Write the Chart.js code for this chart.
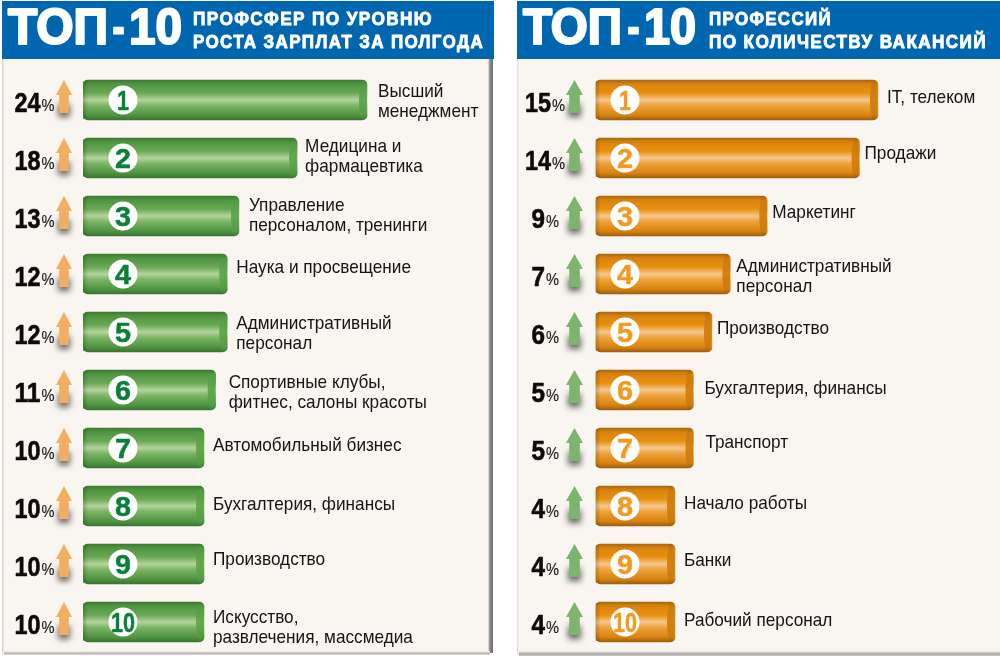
<!DOCTYPE html>
<html><head><meta charset="utf-8">
<script src="https://cdn.jsdelivr.net/npm/chart.js@4"></script>
<style>
html,body{margin:0;padding:0;background:#fff;width:1000px;height:656px;overflow:hidden}
canvas{position:absolute;top:0}
</style></head><body>
<canvas id="left" width="500" height="656" style="left:0"></canvas>
<canvas id="right" width="500" height="656" style="left:500px"></canvas>
<script>
const headlineParts = ['ТОП', '-', '10'];
const leftTitle = ['ПРОФСФЕР ПО УРОВНЮ', 'РОСТА ЗАРПЛАТ ЗА ПОЛГОДА'];
const rightTitle = ['ПРОФЕССИЙ', 'ПО КОЛИЧЕСТВУ ВАКАНСИЙ'];
const leftCategories = [['Высший','менеджмент'],['Медицина и','фармацевтика'],['Управление','персоналом, тренинги'],['Наука и просвещение'],['Административный','персонал'],['Спортивные клубы,','фитнес, салоны красоты'],['Автомобильный бизнес'],['Бухгалтерия, финансы'],['Производство'],['Искусство,','развлечения, массмедиа']];
const leftValues = [24,18,13,12,12,11,10,10,10,10];
const rightCategories = [['IT, телеком'],['Продажи'],['Маркетинг'],['Административный','персонал'],['Производство'],['Бухгалтерия, финансы'],['Транспорт'],['Начало работы'],['Банки'],['Рабочий персонал']];
const rightValues = [15,14,9,7,6,5,5,4,4,4];

const FONT = '"Liberation Sans", Arial, sans-serif';
function stops(g, list){ list.forEach(s => g.addColorStop(s[0], s[1])); return g; }

function makeChart(id, cfg){
  const panelPlugin = {
    id: 'panel',
    beforeDraw(chart){
      const c = chart.ctx, p = cfg.panel;
      c.save();
      c.fillStyle = '#f9f5f0';
      c.fillRect(p.x, 59, p.w, 596);
      if (cfg.shadowRight){
        const g = stops(c.createLinearGradient(p.x+p.w-4,0,p.x+p.w+1,0),[[0,'#f9f5f0'],[0.35,'#8a8a8a'],[1,'#6f6f6f']]);
        c.fillStyle = g; c.fillRect(p.x+p.w-4, 59, 5, 594);
        c.fillStyle = '#d9d6d2'; c.fillRect(p.x, 59, 1.5, 594);
      } else {
        c.fillStyle = '#e6e3df'; c.fillRect(p.x, 59, 1.5, 596);
      }
      const b = stops(c.createLinearGradient(0,651,0,656),[[0,'#f9f5f0'],[0.6,'#a9a7a4'],[1,'#d0cecb']]);
      c.fillStyle = b; c.fillRect(p.x+2, 651, p.w-(cfg.shadowRight?4:2), 5);
      if (cfg.shadowRight){ c.fillStyle='#fff'; c.fillRect(p.x, 654.5, p.w+2, 2);}
      c.fillStyle = '#0066b0';
      c.fillRect(p.x, 1, p.hw, 58);
      c.fillStyle = '#fff'; c.strokeStyle = '#fff'; c.textBaseline = 'alphabetic'; c.textAlign = 'left';
      headlineParts.forEach((t,i)=>{
        const s = cfg.head[i];
        if (t === '-') { fitted(c, t, s.x, 45, s.w, 'bold 56px '+FONT, 1); }
        else { fitted(c, t, s.x+1, 44.4, s.w-2, 'bold 50px '+FONT, 2.2); }
      });
      c.letterSpacing = '1.5px';
      cfg.title.forEach((t,i)=>{
        fitted(c, t, cfg.sub.x, i ? 47.5 : 25, cfg.sub.w[i], 'bold 19px '+FONT, 0.9);
      });
      c.letterSpacing = '0px';
      c.restore();
    },
    afterDatasetsDraw(chart){
      const c = chart.ctx, meta = chart.getDatasetMeta(0);
      const cats = chart.data.labels, vals = chart.data.datasets[0].data;
      meta.data.forEach((bar,i)=>{
        const r = bar.getProps(['x','y','base','height'], true);
        const top = r.y-r.height/2, bot = r.y+r.height/2;
        // cylinder end cap
        c.save();
        c.beginPath(); c.rect(r.x-10, top, 10, r.height); c.clip();
        c.beginPath(); c.ellipse(r.x-4, r.y, 4, r.height/2, 0, 0, Math.PI*2);
        c.fillStyle = stops(c.createLinearGradient(0,top,0,bot), cfg.cap); c.fill();
        c.restore();
        // darker curved left edge
        c.save();
        c.beginPath(); c.rect(r.base, top+1, 5, r.height-2); c.clip();
        c.fillStyle = stops(c.createLinearGradient(r.base,0,r.base+5,0),[[0,'rgba(0,0,0,.2)'],[1,'rgba(0,0,0,0)']]);
        c.fillRect(r.base, top, 5, r.height);
        c.restore();
        // number badge
        const cx = cfg.badgeX;
        c.save();
        c.beginPath(); c.arc(cx, r.y, 14.5, 0, Math.PI*2); c.fillStyle='#fff'; c.fill();
        c.fillStyle = cfg.digit; c.strokeStyle = cfg.digit; c.textAlign='left'; c.textBaseline='alphabetic';
        const num = String(i+1);
        const w = num.length>1 ? 24 : (num==='1' ? 12 : 16);
        fitted(c, num, cx-w/2, r.y+10, w, 'bold 28px '+FONT, 0.5);
        c.restore();
        // arrow with soft shadow
        const a = cfg.arrow, tip = r.y-20;
        c.save();
        c.filter = 'blur(3px)'; c.fillStyle='rgba(60,60,60,.8)';
        c.fillRect(a.x+a.sx-1, tip+24, a.sw+2, 13);
        c.restore();
        c.save();
        c.filter = 'blur(0.5px)';
        c.beginPath();
        c.moveTo(a.x+a.hw/2, tip); c.lineTo(a.x+a.hw, tip+15); c.lineTo(a.x+a.sx+a.sw, tip+15);
        c.lineTo(a.x+a.sx+a.sw, tip+33); c.lineTo(a.x+a.sx, tip+33); c.lineTo(a.x+a.sx, tip+15);
        c.lineTo(a.x, tip+15); c.closePath();
        c.fillStyle = a.color; c.fill();
        c.restore();
        // value
        c.save();
        c.fillStyle='#0b0b0b'; c.strokeStyle='#0b0b0b'; c.textAlign='left'; c.textBaseline='alphabetic';
        const txt = String(vals[i]);
        const end = txt.length>1 ? cfg.valueEnd : cfg.valueEnd - cfg.singleShift;
        const vw = txt.length>1 ? 26 : 13.5;
        fitted(c, txt, end-vw, r.y+11.5, vw, 'bold 27px '+FONT, 0.6);
        c.fillStyle='#1c1c1c'; c.strokeStyle='#1c1c1c';
        fitted(c, '%', end+1, r.y+11, 13, '17px '+FONT, 0.2);
        c.restore();
        // category label
        c.save();
        c.fillStyle='#151515'; c.textAlign='left'; c.textBaseline='middle';
        cats[i].forEach((line,k)=>{
          const lx = r.x + cfg.labelDx[i], ly = r.y + cfg.labelDy[i] + 0.8 + k*19.5;
          c.save(); c.translate(lx, ly); c.scale(0.905,1);
          c.font='19px '+FONT; c.fillText(line,0,0);
          c.restore();
        });
        c.restore();
      });
    }
  };
  return new Chart(document.getElementById(id), {
    type:'bar',
    data:{labels:cfg.categories, datasets:[{
      data:cfg.values,
      base:cfg.min,
      barThickness:40,
      borderSkipped:false,
      borderRadius:{topLeft:5,bottomLeft:5,topRight:5,bottomRight:5},
      backgroundColor(ctx){
        const ch = ctx.chart;
        if(!ch.chartArea || !ch.scales.y) return cfg.bar[2][1];
        const y = ch.scales.y.getPixelForValue(ctx.dataIndex);
        return stops(ch.ctx.createLinearGradient(0,y-20,0,y+20), cfg.bar);
      }
    }]},
    options:{
      indexAxis:'y', responsive:false, animation:false, devicePixelRatio:1,
      layout:{padding:cfg.padding},
      plugins:{legend:{display:false},tooltip:{enabled:false},title:{display:false}},
      scales:{
        x:{type:'linear',min:cfg.min,max:cfg.max,display:false},
        y:{type:'category',display:false,offset:true,grid:{display:false}}
      }
    },
    plugins:[panelPlugin]
  });
}
function fitted(c, text, x, y, width, font, stroke){
  c.font = font;
  const w = c.measureText(text).width;
  c.save(); c.translate(x,y); c.scale(width/w,1);
  c.fillText(text,0,0);
  if(stroke){ c.lineWidth=stroke; c.lineJoin='round'; c.strokeText(text,0,0); }
  c.restore();
}

makeChart('left',{
  categories:leftCategories, values:leftValues, title:leftTitle,
  min:-0.395, max:30, padding:{left:83,right:63.2,top:71,bottom:5},
  panel:{x:2,w:490,hw:492}, shadowRight:true,
  head:[{x:7,w:102},{x:112,w:13},{x:128,w:55}], sub:{x:193,w:[240,291]},
  badgeX:123, digit:'#0a8038',
  valueEnd:40.5, singleShift:0,
  arrow:{x:56,hw:16,sx:3.2,sw:9.6,color:'#f4ae62'},
  labelDx:[11,8,10,9,9,13,9,9,9,9],
  labelDy:[-9,-12,-11,-7,-9,-8,-3,-2,-5,-5],
  bar:[[0,'#3b7a32'],[0.1,'#4f9440'],[0.33,'#6aa955'],[0.5,'#b4d49d'],[0.64,'#7ab465'],[0.88,'#4f9440'],[1,'#3a7531']],
  cap:[[0,'#3f7d36'],[0.12,'#559b45'],[0.5,'#63a84f'],[0.88,'#559b45'],[1,'#3f7d36']]
});
makeChart('right',{
  categories:rightCategories, values:rightValues, title:rightTitle,
  min:-0.309, max:20, padding:{left:95.5,right:29.8,top:71,bottom:5},
  panel:{x:17,w:483,hw:483}, shadowRight:false,
  head:[{x:22,w:101},{x:127,w:13},{x:143,w:54}], sub:{x:209,w:[123,278]},
  badgeX:125, digit:'#f39a22',
  valueEnd:51, singleShift:6,
  arrow:{x:66,hw:17,sx:3.2,sw:10.6,color:'#7db56e'},
  labelDx:[9,5,5,6,5,11,12,9,9,9],
  labelDy:[-3,-5,-4,-8,-4,-2,-6,-3,-4,-2],
  bar:[[0,'#a9660f'],[0.1,'#d9830e'],[0.33,'#e8920f'],[0.5,'#f5c78f'],[0.64,'#eda23a'],[0.88,'#d9830e'],[1,'#9c5c10']],
  cap:[[0,'#a9660f'],[0.12,'#c97b0e'],[0.5,'#d48210'],[0.88,'#c97b0e'],[1,'#9c5c10']]
});
</script>
</body></html>
